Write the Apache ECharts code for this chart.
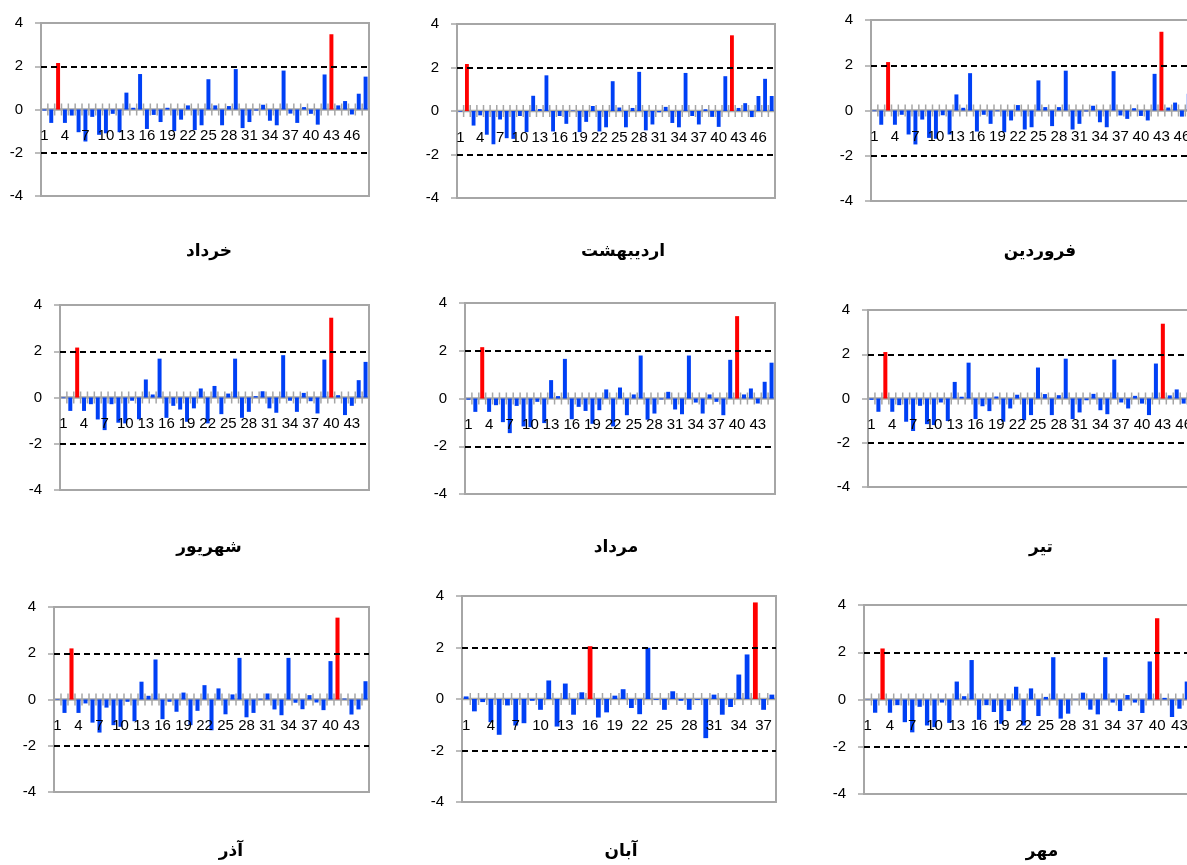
<!DOCTYPE html>
<html>
<head>
<meta charset="utf-8">
<script src="https://cdn.jsdelivr.net/npm/echarts@6/dist/echarts.min.js"></script>
<style>
html,body{margin:0;padding:0;background:#fff;}
#chart{width:1187px;height:865px;}
</style>
</head>
<body>
<div id="chart"></div>
<script>
// ---- data ----
const titles = ['خرداد','اردیبهشت','فروردین','شهریور','مرداد','تیر','آذر','آبان','مهر'];
const yTicks = [-4, -2, 0, 2, 4];
const limitLines = [2, -2];

const khordad = [-0.05,-0.62,2.15,-0.62,-0.28,-1.05,-1.48,-0.34,-1.17,-1.1,-0.2,-1.05,0.78,0.08,1.64,-0.9,-0.25,-0.58,0.08,-1.0,-0.47,0.19,-0.95,-0.73,1.4,0.19,-0.73,0.16,1.87,-0.86,-0.58,-0.05,0.22,-0.52,-0.73,1.8,-0.19,-0.62,0.11,-0.2,-0.7,1.62,3.48,0.19,0.39,-0.23,0.73,1.52];
const ordibehesht = [-0.03,2.16,-0.67,-0.2,-1.09,-1.53,-0.39,-1.25,-1.28,-0.23,-0.97,0.7,0.09,1.64,-0.94,-0.23,-0.59,0.02,-0.97,-0.5,0.23,-0.94,-0.75,1.37,0.16,-0.75,0.14,1.8,-0.89,-0.62,-0.06,0.19,-0.55,-0.75,1.75,-0.23,-0.62,0.08,-0.27,-0.73,1.6,3.48,0.14,0.36,-0.28,0.69,1.48,0.69];
const farvardin = [-0.03,-0.63,2.14,-0.63,-0.19,-1.06,-1.5,-0.4,-1.21,-1.25,-0.21,-1.06,0.71,0.12,1.65,-0.93,-0.19,-0.59,-0.03,-0.96,-0.44,0.24,-0.84,-0.74,1.33,0.15,-0.69,0.15,1.76,-0.84,-0.59,-0.04,0.21,-0.52,-0.74,1.74,-0.22,-0.37,0.1,-0.24,-0.44,1.62,3.48,0.13,0.35,-0.27,0.74,1.5];
const shahrivar = [-0.03,-0.58,2.16,-0.58,-0.29,-0.95,-1.41,-0.29,-1.09,-1.12,-0.14,-0.94,0.78,0.13,1.68,-0.88,-0.36,-0.52,-1.05,-0.47,0.39,-1.12,0.5,-0.72,0.17,1.68,-0.88,-0.62,0.06,0.27,-0.47,-0.66,1.83,-0.14,-0.62,0.2,-0.16,-0.69,1.64,3.45,0.1,-0.76,-0.36,0.75,1.54];
const mordad = [-0.05,-0.56,2.15,-0.56,-0.28,-0.99,-1.45,-0.31,-1.17,-1.2,-0.14,-1.03,0.77,0.1,1.66,-0.87,-0.35,-0.52,-1.06,-0.49,0.38,-1.17,0.46,-0.7,0.17,1.8,-0.89,-0.63,-0.04,0.28,-0.46,-0.66,1.8,-0.17,-0.63,0.17,-0.14,-0.7,1.62,3.45,0.17,0.42,-0.21,0.7,1.5];
const tir = [-0.06,-0.6,2.1,-0.6,-0.3,-1.05,-1.47,-0.33,-1.16,-1.2,-0.18,-1.02,0.75,0.08,1.62,-0.93,-0.35,-0.57,0.09,-1.05,-0.45,0.17,-0.98,-0.75,1.4,0.2,-0.75,0.15,1.8,-0.93,-0.63,-0.08,0.21,-0.53,-0.71,1.76,-0.18,-0.45,0.12,-0.23,-0.75,1.58,3.38,0.14,0.41,-0.23,0.71,1.5];
const azar = [-0.02,-0.58,2.21,-0.58,-0.17,-1.0,-1.43,-0.35,-1.11,-1.18,-0.1,-0.94,0.77,0.16,1.73,-0.85,-0.1,-0.53,0.3,-1.11,-0.49,0.62,-1.33,0.48,-0.64,0.22,1.8,-0.77,-0.58,0.03,0.26,-0.43,-0.68,1.8,-0.14,-0.42,0.19,-0.13,-0.46,1.66,3.54,0.04,-0.65,-0.43,0.79];
const aban = [0.1,-0.48,-0.12,-0.9,-1.39,-0.25,-1.03,-0.94,-0.07,-0.42,0.72,-1.07,0.6,-0.61,0.26,2.05,-0.72,-0.52,0.13,0.38,-0.35,-0.59,1.99,-0.03,-0.42,0.3,-0.07,-0.42,-0.03,-1.52,0.17,-0.61,-0.31,0.95,1.73,3.75,-0.42,0.17];
const mehr = [-0.01,-0.56,2.16,-0.56,-0.24,-0.96,-1.39,-0.31,-1.1,-1.17,-0.13,-0.99,0.76,0.14,1.67,-0.86,-0.24,-0.53,-1.03,-0.49,0.54,-1.1,0.47,-0.7,0.11,1.79,-0.81,-0.6,0.01,0.29,-0.43,-0.63,1.79,-0.13,-0.49,0.19,-0.13,-0.57,1.61,3.44,0.07,-0.74,-0.39,0.76,1.5];

// categories whose bars are drawn red (1-based)
const khordadRed = [3, 43];
const ordibeheshtRed = [2, 42];
const farvardinRed = [3, 43];
const shahrivarRed = [3, 40];
const mordadRed = [3, 40];
const tirRed = [3, 43];
const azarRed = [3, 41];
const abanRed = [16, 36];
const mehrRed = [3, 40];

const seriesValues = [khordad, ordibehesht, farvardin, shahrivar, mordad, tir, azar, aban, mehr];
const seriesRed = [khordadRed, ordibeheshtRed, farvardinRed, shahrivarRed, mordadRed, tirRed, azarRed, abanRed, mehrRed];

// ---- layout (pixels) ----
const panels = [
  {left: 41,  top: 23,  width: 328, height: 173, tx: 209,  ty: 252},
  {left: 457, top: 24,  width: 318, height: 174, tx: 623,  ty: 252},
  {left: 871, top: 20,  width: 328, height: 181, tx: 1040, ty: 252},
  {left: 60,  top: 305, width: 309, height: 185, tx: 209,  ty: 548},
  {left: 465, top: 303, width: 310, height: 191, tx: 616,  ty: 548},
  {left: 868, top: 310, width: 333, height: 177, tx: 1041, ty: 548},
  {left: 54,  top: 607, width: 315, height: 185, tx: 231,  ty: 852},
  {left: 462, top: 596, width: 314, height: 206, tx: 621,  ty: 852},
  {left: 864, top: 605, width: 334, height: 189, tx: 1042, ty: 852}
];

const FONT = 'Liberation Sans';
const GRAY = '#a6a6a6';
const BLUE = '#0040f5';
const RED = '#ff0000';
const TICK = 6;

// zero axis line with tick marks crossing it at every category boundary
function zeroAxisRender(params, api) {
  const k = api.value(0);
  const c = api.coord([k, 0]);
  const w = api.size([1, 0])[0];
  const x0 = c[0] - w / 2, x1 = c[0] + w / 2, y = c[1];
  const st = {stroke: GRAY, lineWidth: 1.5};
  const children = [
    {type: 'line', shape: {x1: x0, y1: y, x2: x1, y2: y}, style: {stroke: GRAY, lineWidth: 2.5}},
    {type: 'line', shape: {x1: x0, y1: y - TICK, x2: x0, y2: y + TICK}, style: st}
  ];
  if (params.dataIndex === params.dataInsideLength - 1) {
    children.push({type: 'line', shape: {x1: x1, y1: y - TICK, x2: x1, y2: y + TICK}, style: st});
  }
  return {type: 'group', children: children};
}

const grids = [], xAxes = [], yAxes = [], series = [], graphics = [];
panels.forEach((p, i) => {
  const vals = seriesValues[i];
  const cats = vals.map((_, k) => String(k + 1));
  grids.push({left: p.left, top: p.top, width: p.width, height: p.height,
    show: true, borderColor: GRAY, borderWidth: 2, containLabel: false, outerBoundsMode: 'none'});
  xAxes.push({type: 'category', gridIndex: i, data: cats, position: 'bottom', z: 10,
    axisLine: {show: false, onZero: false},
    axisTick: {show: false},
    axisLabel: {interval: 2, fontSize: 15, color: '#000', margin: 19 - p.height / 2, fontFamily: FONT},
    splitLine: {show: false}});
  yAxes.push({type: 'value', gridIndex: i, min: yTicks[0], max: yTicks[yTicks.length - 1], interval: 2,
    axisLine: {show: true, lineStyle: {color: GRAY, width: 2}},
    axisTick: {show: true, length: 6, lineStyle: {color: GRAY, width: 1.5}},
    axisLabel: {fontSize: 15, color: '#000', margin: 18, fontFamily: FONT},
    splitLine: {show: false}});
  series.push({type: 'custom', xAxisIndex: i, yAxisIndex: i, z: 1, silent: true,
    renderItem: zeroAxisRender, data: cats.map((c, k) => [k, 0])});
  series.push({type: 'bar', xAxisIndex: i, yAxisIndex: i, z: 3, barCategoryGap: '42%',
    data: vals.map((v, k) => ({value: v, itemStyle: {color: seriesRed[i].includes(k + 1) ? RED : BLUE}})),
    markLine: {silent: true, symbol: 'none', label: {show: false},
      lineStyle: {color: '#000', type: [6, 4], width: 2},
      data: limitLines.map(y => ({yAxis: y}))}});
  graphics.push({type: 'text', x: p.tx, y: p.ty,
    style: {text: titles[i], font: 'bold 17px "DejaVu Sans"', fill: '#000', textAlign: 'center', textVerticalAlign: 'middle'}});
});

const chart = echarts.init(document.getElementById('chart'), null, {renderer: 'canvas'});
chart.setOption({
  animation: false,
  backgroundColor: '#fff',
  grid: grids, xAxis: xAxes, yAxis: yAxes, series: series,
  graphic: graphics
});
</script>
</body>
</html>
